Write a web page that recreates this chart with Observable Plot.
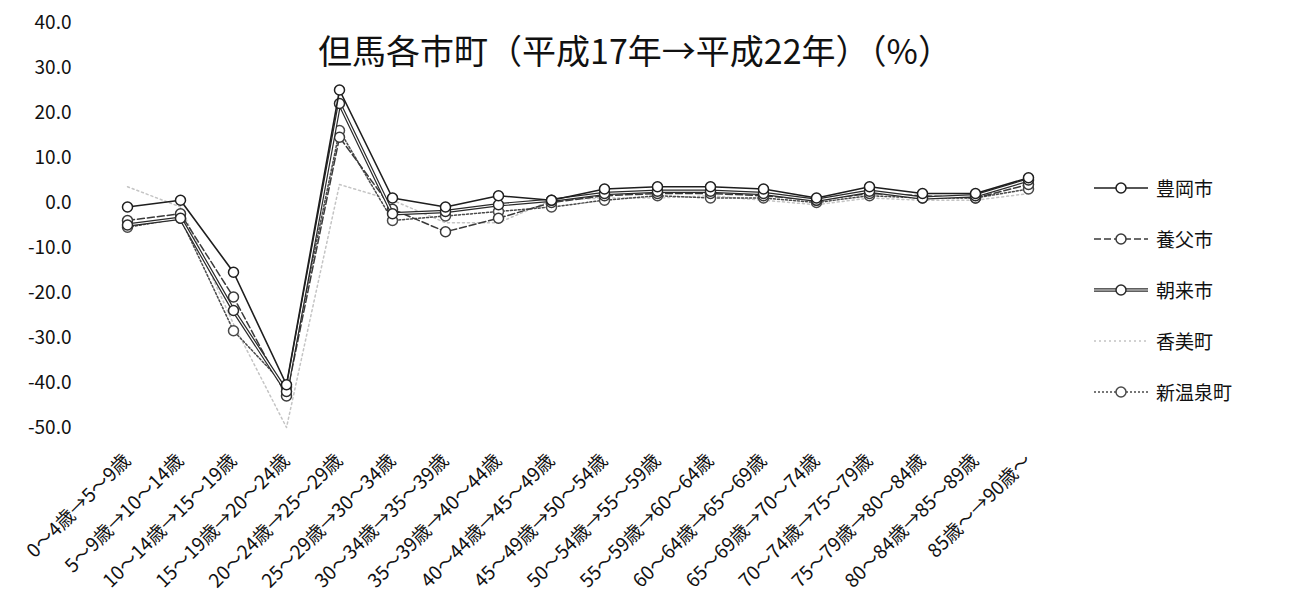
<!DOCTYPE html>
<html><head><meta charset="utf-8">
<script src="https://cdn.jsdelivr.net/npm/d3@7"></script>
<script src="https://cdn.jsdelivr.net/npm/@observablehq/plot@0.6"></script>
<style>
html,body{margin:0;padding:0;background:#fff;}
#wrap{position:relative;width:1313px;height:601px;overflow:hidden;font-family:"Noto Sans CJK JP","Noto Sans",sans-serif;}
#title{position:absolute;left:0;width:1270px;top:25px;text-align:center;font-size:34px;color:#111;}
#legend{position:absolute;left:1092px;top:162px;}
.lg{display:flex;align-items:center;height:51px;font-size:19px;color:#111;}
.lg svg{margin-right:6px;}
</style></head>
<body><div id="wrap"><div id="title">但馬各市町（平成17年→平成22年）（%）</div><div id="chart"></div><div id="legend"></div></div>
<script>
const categories = ["0～4歳→5～9歳","5～9歳→10～14歳","10～14歳→15～19歳","15～19歳→20～24歳","20～24歳→25～29歳","25～29歳→30～34歳","30～34歳→35～39歳","35～39歳→40～44歳","40～44歳→45～49歳","45～49歳→50～54歳","50～54歳→55～59歳","55～59歳→60～64歳","60～64歳→65～69歳","65～69歳→70～74歳","70～74歳→75～79歳","75～79歳→80～84歳","80～84歳→85～89歳","85歳～→90歳～"];
const seriesNames = ["豊岡市","養父市","朝来市","香美町","新温泉町"];
const toyooka   = [-1.0, 0.5, -15.5, -40.5, 25.0, 1.0, -1.0, 1.5, 0.5, 3.0, 3.5, 3.5, 3.0, 1.0, 3.5, 2.0, 2.0, 5.5];
const yabu      = [-4.0, -2.5, -21.0, -43.0, 14.5, -1.5, -6.5, -3.5, 0.0, 1.5, 2.0, 2.0, 1.5, 0.5, 2.0, 1.5, 1.0, 4.0];
const asago     = [-5.0, -3.5, -24.0, -42.0, 22.0, -2.5, -2.0, -0.5, 0.5, 2.0, 2.5, 2.5, 2.0, 0.5, 2.5, 1.0, 1.5, 5.0];
const kami      = [3.5, -1.0, -27.0, -50.0, 4.0, 0.5, -4.5, -4.5, 0.5, 1.0, 1.0, 1.5, 0.5, -0.5, 1.0, 0.5, 0.5, 2.0];
const shinonsen = [-5.5, -3.5, -28.5, -41.0, 16.0, -4.0, -3.0, -2.0, -1.0, 0.5, 1.5, 1.0, 1.0, 0.0, 1.5, 1.0, 1.0, 3.0];
const yTicks = [40, 30, 20, 10, 0, -10, -20, -30, -40, -50];

const valuesBySeries = [toyooka, yabu, asago, kami, shinonsen];
const styles = [
  {stroke:"#1e1e1e", width:1.6, dash:null, marker:true, double:false},
  {stroke:"#3a3a3a", width:1.5, dash:"7,3", marker:true, double:false},
  {stroke:"#2a2a2a", width:3.6, dash:null, marker:true, double:true},
  {stroke:"#c4c4c4", width:1.5, dash:"2,3", marker:false, double:false},
  {stroke:"#4a4a4a", width:1.5, dash:"2,2", marker:true, double:false}
];
const rows = [];
seriesNames.forEach((s, i) => valuesBySeries[i].forEach((v, j) => rows.push({series: s, cat: categories[j], value: v})));

const marks = [];
const order = [3, 4, 1, 2, 0];
for (const i of order) {
  const st = styles[i];
  const data = rows.filter(d => d.series === seriesNames[i]);
  marks.push(Plot.line(data, {x: "cat", y: "value", stroke: st.stroke, strokeWidth: st.width, strokeDasharray: st.dash}));
  if (st.double) marks.push(Plot.line(data, {x: "cat", y: "value", stroke: "#fff", strokeWidth: 1.2}));
  if (st.marker) marks.push(Plot.dot(data, {x: "cat", y: "value", r: 5, fill: "#fff", stroke: st.stroke, strokeWidth: 1.5}));
}

const chart = Plot.plot({
  width: 1313, height: 601,
  marginLeft: 95, marginRight: 253, marginTop: 22, marginBottom: 174,
  style: {fontFamily: '"Noto Sans CJK JP","Noto Sans",sans-serif', background: "#fff", color: "#111"},
  x: {type: "point", domain: categories, padding: 0.5, label: null},
  y: {domain: [-50, 40], label: null},
  marks: [
    Plot.axisY({ticks: yTicks, tickSize: 0, tickPadding: 24, tickFormat: d => d.toFixed(1), fontSize: 19, label: null}),
    Plot.axisX({tickSize: 0, tickPadding: 30, tickRotate: -45, fontSize: 19, label: null, style: {letterSpacing: "2px"}}),
    ...marks
  ]
});
document.getElementById("chart").appendChild(chart);

const leg = document.getElementById("legend");
seriesNames.forEach((name, i) => {
  const st = styles[i];
  const row = document.createElement("div");
  row.className = "lg";
  let svg = `<svg width="58" height="16">`;
  svg += `<line x1="2" y1="8" x2="56" y2="8" stroke="${st.stroke}" stroke-width="${st.width}" ${st.dash ? `stroke-dasharray="${st.dash}"` : ""}/>`;
  if (st.double) svg += `<line x1="2" y1="8" x2="56" y2="8" stroke="#fff" stroke-width="1.2"/>`;
  if (st.marker) svg += `<circle cx="29" cy="8" r="5" fill="#fff" stroke="${st.stroke}" stroke-width="1.5"/>`;
  svg += `</svg>`;
  row.innerHTML = svg + `<span>${name}</span>`;
  leg.appendChild(row);
});
</script></body></html>
